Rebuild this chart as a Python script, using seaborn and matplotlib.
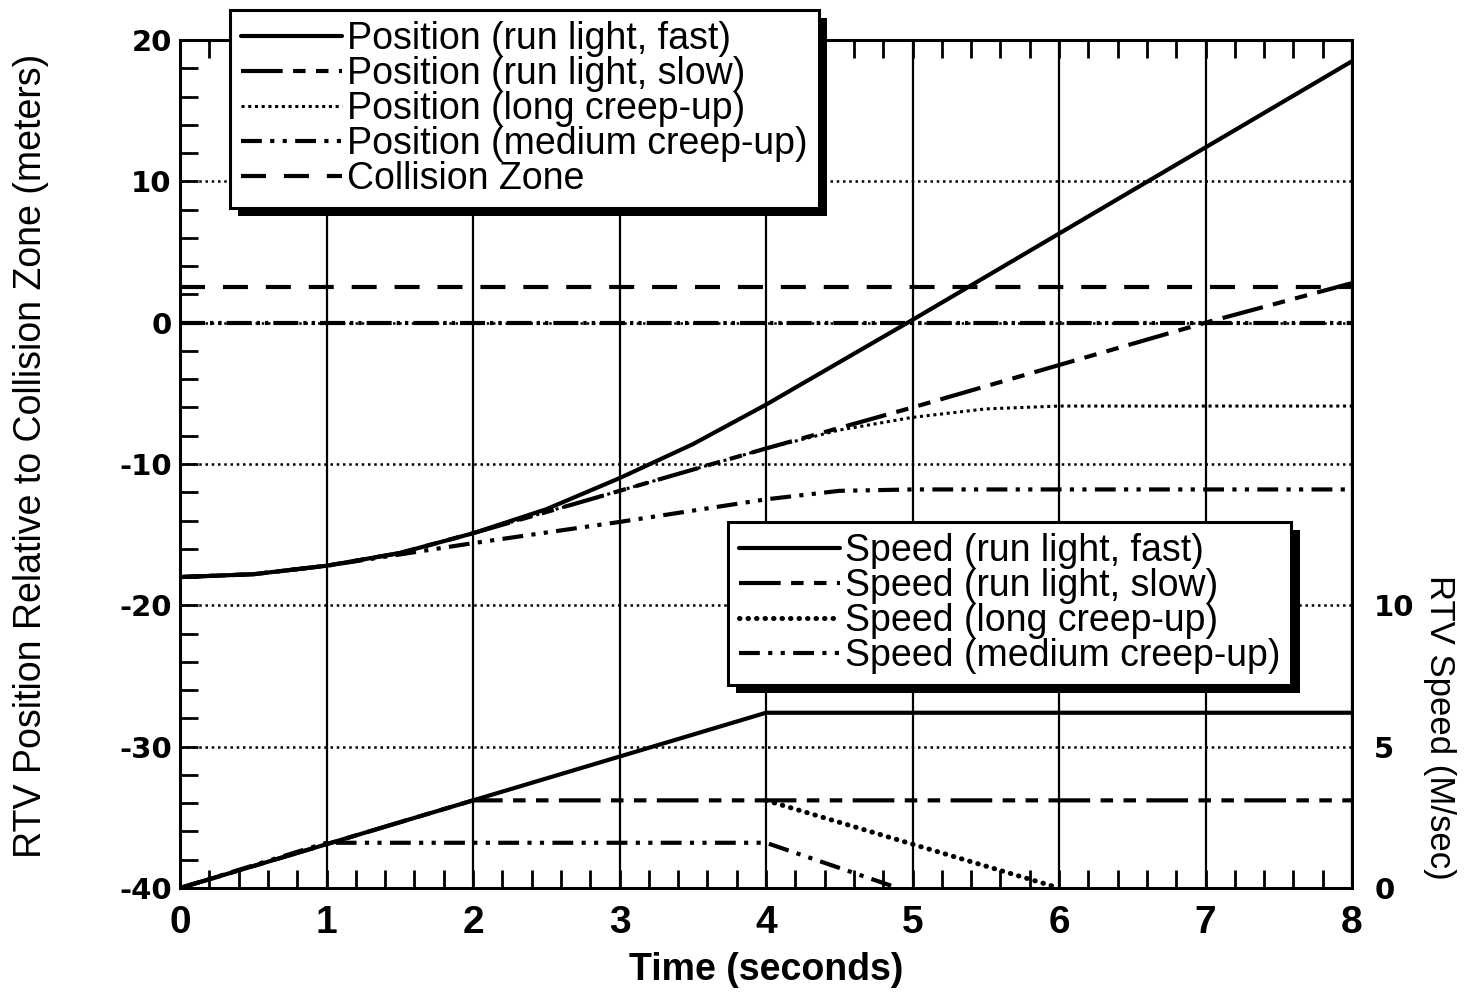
import matplotlib
matplotlib.use("Agg")
import matplotlib.pyplot as plt
import matplotlib.patheffects as pe
from matplotlib.ticker import MultipleLocator, FixedLocator
import seaborn as sns

sns.set_style("ticks")
plt.rcParams['font.family'] = ['Liberation Sans Narrow', 'Liberation Sans', 'DejaVu Sans']
plt.rcParams['axes.unicode_minus'] = False
for key in ['text.color', 'axes.labelcolor', 'xtick.color', 'ytick.color']:
    plt.rcParams[key] = 'k'

# position curves (meters)
t_fast = [0, 0.5, 1, 1.5, 2, 2.5, 3, 3.5, 4, 5, 6, 7, 8]
pos_fast = [-18, -17.8, -17.2, -16.3, -14.9, -13.2, -11.0, -8.6, -5.8, 0.2, 6.3, 12.4, 18.5]
t_slow = [0, 0.5, 1, 1.5, 2, 3, 4, 5, 6, 7, 8]
pos_slow = [-18, -17.8, -17.2, -16.3, -14.9, -11.9, -8.9, -6.0, -3.0, 0.0, 2.8]
t_long = [0, 0.5, 1, 1.5, 2, 3, 4, 4.5, 5, 5.5, 6, 8]
pos_long = [-18, -17.8, -17.2, -16.3, -14.9, -11.9, -8.9, -7.6, -6.7, -6.1, -5.9, -5.9]
t_med = [0, 0.5, 1, 2, 3, 4, 4.5, 5, 8]
pos_med = [-18, -17.8, -17.2, -15.6, -14.1, -12.5, -11.9, -11.8, -11.8]
zone_lines = [0, 2.5]

# speed curves (m/s)
ts_fast = [0, 4, 8]
spd_fast = [0, 6.2, 6.2]
ts_slow = [0, 2, 8]
spd_slow = [0, 3.1, 3.1]
ts_long = [4, 6]
spd_long = [3.1, 0]
ts_med = [0, 1, 4, 4.9]
spd_med = [0, 1.6, 1.6, 0]

pos_labels = ["Position (run light, fast)", "Position (run light, slow)",
              "Position (long creep-up)", "Position (medium creep-up)", "Collision Zone"]
spd_labels = ["Speed (run light, fast)", "Speed (run light, slow)",
              "Speed (long creep-up)", "Speed (medium creep-up)"]

LW = 3
slow_dash = (0, (10, 2.5, 3, 2.5, 3, 2.5))
med_dash = (0, (5, 2, 1, 2, 1, 2))

fig = plt.figure(figsize=(14.64, 10), dpi=100)
ax = fig.add_axes([0.123, 0.112, 0.8005, 0.848])

sns.lineplot(x=t_fast, y=pos_fast, ax=ax, color="k", lw=LW, linestyle="-", label=pos_labels[0])
sns.lineplot(x=t_slow, y=pos_slow, ax=ax, color="k", lw=LW, linestyle=slow_dash, label=pos_labels[1])
sns.lineplot(x=t_long, y=pos_long, ax=ax, color="k", lw=2.2, linestyle=(0, (1, 1.2)), label=pos_labels[2])
sns.lineplot(x=t_med, y=pos_med, ax=ax, color="k", lw=LW, linestyle=med_dash, label=pos_labels[3])
zone_far = ax.axhline(zone_lines[1], color="k", lw=LW, linestyle=(0, (6, 4.3)), label=pos_labels[4])
ax.axhline(zone_lines[0], color="k", lw=LW, linestyle=(0, (6, 1.2, 0.8, 1.2, 0.8, 1.2)))
pos_handles = ax.lines[:4] + [zone_far]
if ax.get_legend() is not None:
    ax.get_legend().remove()

ax.set_xlim(0, 8)
ax.set_ylim(-40, 20)
ax.xaxis.set_major_locator(MultipleLocator(1))
ax.xaxis.set_minor_locator(MultipleLocator(0.2))
ax.yaxis.set_major_locator(MultipleLocator(10))
ax.yaxis.set_minor_locator(MultipleLocator(2))
ax.xaxis.grid(True, which="major", color="k", lw=1.6, linestyle="-")
ax.yaxis.grid(True, which="major", color="k", lw=1.8, linestyle=(0, (1, 1.5)))
ax.tick_params(which="both", direction="in", top=True, right=True, length=13, width=2)
ax.tick_params(axis="x", which="major", pad=12)
ax.tick_params(axis="y", which="major", pad=6)
for s in ax.spines.values():
    s.set_linewidth(2.2)
    s.set_color("k")
for lab in ax.get_xticklabels():
    lab.set_fontweight("bold")
    lab.set_fontsize(28)
for lab in ax.get_yticklabels():
    lab.set_fontweight("bold")
    lab.set_fontsize(21)
    lab.set_family("DejaVu Sans")

ax.set_xlabel("Time (seconds)", fontsize=27, fontweight="bold")
ax.xaxis.set_label_coords(0.5, -0.075)
ax.set_ylabel("RTV Position Relative to Collision Zone (meters)", fontsize=27)
ax.yaxis.set_label_coords(-0.112, 0.51)

# speed on the twin axis
ax2 = ax.twinx()
sns.lineplot(x=ts_fast, y=spd_fast, ax=ax2, color="k", lw=LW, linestyle="-", label=spd_labels[0])
sns.lineplot(x=ts_slow, y=spd_slow, ax=ax2, color="k", lw=LW, linestyle=slow_dash, label=spd_labels[1])
sns.lineplot(x=ts_long, y=spd_long, ax=ax2, color="k", lw=3.6, linestyle=(0, (0.1, 1.6)),
             solid_capstyle="round", dash_capstyle="round", label=spd_labels[2])
sns.lineplot(x=ts_med, y=spd_med, ax=ax2, color="k", lw=LW, linestyle=med_dash, label=spd_labels[3])
spd_handles = ax2.lines[:4]

ax2.set_ylim(0, 30)
ax2.yaxis.set_major_locator(FixedLocator([0, 5, 10]))
ax2.tick_params(axis="y", which="both", length=0, pad=16)
for lab in ax2.get_yticklabels():
    lab.set_fontweight("bold")
    lab.set_fontsize(21)
    lab.set_family("DejaVu Sans")
for s in ax2.spines.values():
    s.set_visible(False)
ax2.set_ylabel("RTV Speed (M/sec)", fontsize=25, rotation=-90, va="center")
ax2.yaxis.set_label_coords(1.075, 0.19)

shadow = [pe.SimplePatchShadow(offset=(6, -6), shadow_rgbFace="k", alpha=1), pe.Normal()]
leg_kw = dict(fontsize=27, frameon=True, fancybox=False, borderaxespad=0,
              handlelength=2.7, handletextpad=0.12, labelspacing=-0.03,
              borderpad=0.3, bbox_transform=fig.transFigure)

leg1 = ax2.legend(pos_handles, pos_labels, loc="upper left",
                  bbox_to_anchor=(0.157, 0.99), **leg_kw)
leg1.get_frame().set_edgecolor("k")
leg1.get_frame().set_linewidth(2.2)
leg1.get_frame().set_alpha(1)
leg1.get_frame().set_path_effects(shadow)
ax2.add_artist(leg1)

leg2 = ax2.legend(spd_handles, spd_labels, loc="upper left",
                  bbox_to_anchor=(0.497, 0.478), **leg_kw)
leg2.get_frame().set_edgecolor("k")
leg2.get_frame().set_linewidth(2.2)
leg2.get_frame().set_alpha(1)
leg2.get_frame().set_path_effects(shadow)

fig.savefig("out.png", dpi=100)
